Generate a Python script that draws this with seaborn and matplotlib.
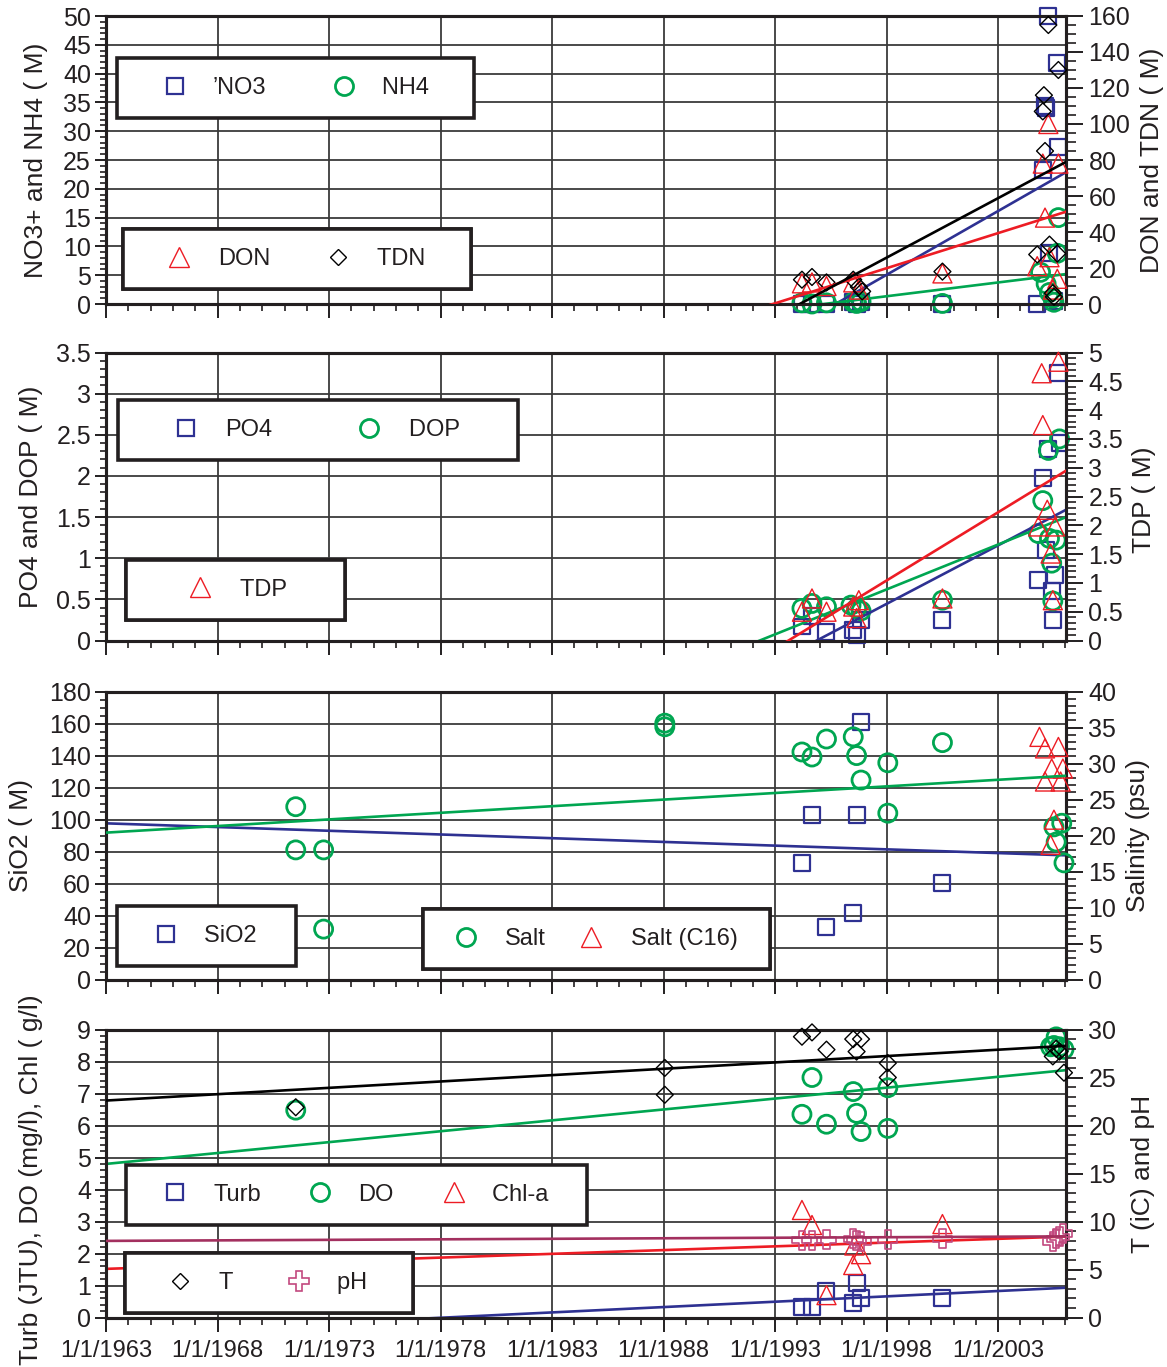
import numpy as np
import pandas as pd
import matplotlib
matplotlib.use("Agg")
import matplotlib.pyplot as plt
from matplotlib.lines import Line2D
from matplotlib.ticker import MultipleLocator, FixedLocator, FixedFormatter, FuncFormatter
import seaborn as sns

# ---------------- data (decimal years) ----------------
x_tick_years = [1963, 1968, 1973, 1978, 1983, 1988, 1993, 1998, 2003]
x_tick_labels = ["1/1/1963", "1/1/1968", "1/1/1973", "1/1/1978", "1/1/1983",
                 "1/1/1988", "1/1/1993", "1/1/1998", "1/1/2003"]
X_RANGE = [1963.0, 2006.05]

# Panel 1
no3_year = [1994.2, 1994.65, 1995.3, 1996.5, 1996.65, 1996.85, 2000.5, 2004.75, 2005.0,
            2005.1, 2005.15, 2005.25, 2005.3, 2005.5, 2005.65, 2005.7]
no3_val = [0.0, 0.0, 0.0, 0.3, 0.0, 0.4, 0.0, 0.0, 23.2, 34.4, 34.0, 50.0, 8.8, 0.6, 41.8, 27.2]
nh4_year = [1994.2, 1994.65, 1995.3, 1996.5, 1996.65, 1996.85, 2000.5, 2004.9, 2005.15,
            2005.3, 2005.45, 2005.5, 2005.65, 2005.7]
nh4_val = [0.2, 0.0, 0.2, 0.3, 0.1, 0.4, 0.1, 5.5, 3.5, 2.0, 1.0, 0.3, 8.8, 15.0]
don_year = [1994.2, 1994.65, 1995.3, 1996.5, 1996.75, 2000.5, 2004.75, 2005.0, 2005.1,
            2005.25, 2005.3, 2005.45, 2005.65, 2005.7]
don_val = [11.5, 12.0, 10.0, 12.0, 8.0, 17.0, 21.0, 78.0, 48.0, 100.0, 26.0, 8.0, 14.0, 78.0]
tdn_year = [1994.2, 1994.65, 1995.3, 1996.5, 1996.75, 1996.9, 2000.5, 2004.75, 2005.0,
            2005.05, 2005.1, 2005.25, 2005.3, 2005.45, 2005.5, 2005.65, 2005.7]
tdn_val = [13.5, 15.0, 12.0, 13.5, 9.5, 7.0, 18.0, 27.5, 107.0, 116.0, 85.0, 155.0, 33.0,
           6.0, 4.0, 28.0, 130.0]
# trend values at the two ends of the time axis
no3_trend = [-72.4, 22.9]
nh4_trend = [-15.4, 5.2]
don_trend = [-116.6, 51.3]
tdn_trend = [-205.6, 79.0]

# Panel 2
po4_year = [1994.2, 1994.65, 1995.3, 1996.5, 1996.65, 1996.85, 2000.5, 2004.8, 2005.0,
            2005.15, 2005.25, 2005.4, 2005.45, 2005.55, 2005.7, 2005.75]
po4_val = [0.17, 0.30, 0.10, 0.13, 0.07, 0.25, 0.25, 0.73, 1.97, 1.10, 2.33, 0.60, 0.25,
           0.80, 3.25, 2.40]
dop_year = [1994.2, 1994.65, 1995.3, 1996.4, 1996.65, 1996.85, 2000.5, 2004.8, 2005.0,
            2005.25, 2005.3, 2005.4, 2005.45, 2005.6, 2005.75]
dop_val = [0.39, 0.45, 0.41, 0.43, 0.39, 0.36, 0.49, 1.30, 1.70, 2.31, 1.24, 0.94, 0.48,
           1.22, 2.45]
tdp_year = [1994.2, 1994.65, 1995.3, 1996.5, 1996.65, 1996.75, 2000.5, 2004.8, 2004.95,
            2005.0, 2005.2, 2005.35, 2005.45, 2005.55, 2005.7]
tdp_val = [0.50, 0.73, 0.50, 0.59, 0.39, 0.70, 0.73, 1.98, 4.64, 3.74, 2.27, 1.51, 0.70,
           1.98, 4.84]
po4_trend = [-4.53, 1.59]
dop_trend = [-3.20, 1.50]
tdp_trend = [-7.25, 2.95]

# Panel 3
sio2_year = [1994.2, 1994.65, 1995.3, 1996.5, 1996.65, 1996.85, 2000.5]
sio2_val = [73, 103, 33, 41.5, 103, 161, 60.5]
salt_year = [1971.5, 1971.5, 1972.75, 1972.75, 1988.05, 1988.05, 1994.2, 1994.65, 1995.3,
             1996.5, 1996.65, 1996.85, 1998.05, 1998.05, 2000.5, 2005.5, 2005.6, 2005.85,
             2005.95]
salt_val = [24.0, 18.0, 18.0, 7.0, 35.6, 35.1, 31.6, 30.9, 33.4, 33.7, 31.1, 27.7, 30.1,
            23.1, 32.9, 21.2, 19.1, 21.7, 16.2]
c16_year = [2004.85, 2005.1, 2005.1, 2005.35, 2005.4, 2005.5, 2005.7, 2005.8, 2005.9]
c16_val = [33.7, 32.1, 27.5, 18.7, 29.3, 22.2, 32.3, 27.5, 29.3]
sio2_trend = [97.6, 77.6]
salt_trend = [20.4, 28.3]

# Panel 4
turb_year = [1994.2, 1994.65, 1995.3, 1996.5, 1996.65, 1996.85, 2000.5]
turb_val = [0.34, 0.32, 0.84, 0.44, 1.07, 0.62, 0.60]
do_year = [1971.5, 1994.2, 1994.65, 1995.3, 1996.5, 1996.65, 1996.85, 1998.05, 1998.05,
           2005.35, 2005.5, 2005.6, 2005.75, 2005.95]
do_val = [6.48, 6.35, 7.50, 6.04, 7.06, 6.38, 5.81, 7.18, 5.91, 8.46, 8.5, 8.77, 8.46, 8.38]
chla_year = [1994.2, 1994.65, 1995.3, 1996.5, 1996.55, 1996.85, 2000.5]
chla_val = [3.36, 2.89, 0.70, 1.64, 2.25, 1.98, 2.92]
t_year = [1971.5, 1988.05, 1988.05, 1994.2, 1994.65, 1995.3, 1996.5, 1996.65, 1996.85,
          1998.05, 1998.05, 2005.45, 2005.6, 2005.75, 2005.95]
t_val = [21.9, 26.0, 23.2, 29.25, 29.7, 27.9, 29.0, 27.7, 29.0, 26.5, 25.0, 27.2, 28.0,
         27.7, 25.5]
ph_year = [1994.2, 1994.65, 1995.3, 1996.5, 1996.65, 1996.85, 1998.05, 2000.5, 2005.45,
           2005.6, 2005.75, 2005.9]
ph_val = [8.07, 8.07, 8.1, 8.2, 8.07, 7.9, 8.1, 8.2, 7.9, 8.2, 8.4, 8.75]
turb_trend = [-0.51, 0.93]
do_trend = [4.8, 7.73]
chla_trend = [1.52, 2.53]
t_trend = [22.6, 28.3]
ph_trend = [7.98, 8.45]

# ---------------- styles ----------------
INK = "#231f20"
BLUE, GREEN, RED, BLACK, PINK, PLINE = "#2e3192", "#00a651", "#ed1c24", "#000000", "#c2497f", "#a3305f"
SQ = dict(marker="s", ms=11.5, lw=1.6, color=BLUE)
CI = dict(marker="o", ms=13.0, lw=2.0, color=GREEN)
TR = dict(marker="^", ms=13.7, lw=1.0, color=RED)
DI = dict(marker="D", ms=8.6, lw=1.0, color=BLACK)
PL = dict(marker="P", ms=13.7, lw=1.2, color=PINK)

sns.set_theme(style="ticks")
plt.rcParams["font.family"] = ["Liberation Sans", "DejaVu Sans"]
plt.rcParams["text.color"] = INK
plt.rcParams["axes.labelcolor"] = INK
plt.rcParams["xtick.color"] = INK
plt.rcParams["ytick.color"] = INK

FW, FH = 1167, 1367
fig = plt.figure(figsize=(FW / 100, FH / 100), dpi=100)
L, W, H = 106.2 / FW, 960 / FW, 288 / FH
bottoms_px = [304, 640.5, 979.5, 1317.5]


def pts(ax, x, y, st):
    sns.scatterplot(x=x, y=y, ax=ax, marker=st["marker"], s=st["ms"] ** 2, color=st["color"],
                    facecolor="none", edgecolor=st["color"], linewidth=st["lw"],
                    clip_on=False, zorder=3, legend=False)


def trend(ax, vals, color):
    sns.lineplot(x=X_RANGE, y=vals, ax=ax, color=color, linewidth=1.9, legend=False,
                 zorder=4, estimator=None)


fmt = FuncFormatter(lambda v, p: f"{v:g}")


def style(ax, ax2, ylim_l, maj_l, min_l, ylim_r, maj_r, min_r, show_x, lab_l, lab_r,
          lx, rx, ly=0.5, ry=0.5):
    ax.set_xlim(*X_RANGE)
    ax.set_ylim(*ylim_l)
    ax2.set_ylim(*ylim_r)
    ax.xaxis.set_major_locator(FixedLocator(x_tick_years))
    ax.xaxis.set_major_formatter(FixedFormatter(x_tick_labels))
    ax.xaxis.set_minor_locator(MultipleLocator(1))
    ax.yaxis.set_major_locator(MultipleLocator(maj_l))
    ax.yaxis.set_minor_locator(MultipleLocator(min_l))
    ax.yaxis.set_major_formatter(fmt)
    ax2.yaxis.set_major_locator(MultipleLocator(maj_r))
    ax2.yaxis.set_minor_locator(MultipleLocator(min_r))
    ax2.yaxis.set_major_formatter(fmt)
    ax.grid(True, which="major", axis="both", color="#3a3a3a", linewidth=1.3)
    ax.set_axisbelow(True)
    ax.tick_params(axis="x", which="major", direction="out", length=10, width=1.4,
                   bottom=True, top=False, labelbottom=show_x, labelsize=17, pad=6)
    ax.tick_params(axis="x", which="minor", direction="out", length=5, width=1.2,
                   bottom=True, top=False)
    ax.tick_params(axis="y", which="major", direction="out", length=8, width=1.4,
                   left=True, right=False, labelsize=18, pad=3)
    ax.tick_params(axis="y", which="minor", direction="out", length=4, width=1.2,
                   left=True, right=False)
    ax2.tick_params(axis="y", which="major", direction="out", length=12, width=1.4,
                    right=True, left=False, labelsize=18, pad=4)
    ax2.tick_params(axis="y", which="minor", direction="out", length=7, width=1.2,
                    right=True, left=False)
    for a in (ax, ax2):
        for sp in a.spines.values():
            sp.set_visible(True)
            sp.set_linewidth(2.2)
            sp.set_color(INK)
    ax.set_xlabel("")
    ax.set_ylabel(lab_l, fontsize=19)
    ax2.set_ylabel(lab_r, fontsize=19)
    ax.yaxis.set_label_coords(lx, ly)
    ax2.yaxis.set_label_coords(rx, ry)


def legend(ax, entries, x0, ytop, hl, htp, cs):
    handles = [Line2D([], [], ls="none", marker=st["marker"], ms=st["ms"], mfc="none",
                      mec=st["color"], mew=st["lw"]) for st, _ in entries]
    labels = [lab for _, lab in entries]
    leg = ax.legend(handles, labels, loc="upper left", bbox_to_anchor=(x0, ytop),
                    ncol=len(entries), frameon=True, fancybox=False, framealpha=1,
                    edgecolor=INK, borderpad=0.8, handlelength=hl - 0.3,
                    handletextpad=htp + 0.15, columnspacing=cs, fontsize=17,
                    borderaxespad=0)
    leg.get_frame().set_linewidth(2.6)
    leg.set_zorder(10)
    ax.add_artist(leg)
    return leg


axes = []
for b in bottoms_px:
    ax = fig.add_axes([L, 1 - b / FH, W, H])
    ax2 = ax.twinx()
    axes.append((ax, ax2))

# ---- Panel 1 ----
ax, ax2 = axes[0]
pts(ax, no3_year, no3_val, SQ)
pts(ax, nh4_year, nh4_val, CI)
pts(ax2, don_year, don_val, TR)
pts(ax2, tdn_year, tdn_val, DI)
trend(ax, no3_trend, BLUE)
trend(ax, nh4_trend, GREEN)
trend(ax2, don_trend, RED)
trend(ax2, tdn_trend, BLACK)
style(ax, ax2, (0, 50), 5, 1, (0, 160), 20, 5, False,
      "NO3+ and NH4 ( M)", "DON and TDN ( M)", -0.0606, 1.0765)
legend(ax2, [(SQ, "\u2019NO3"), (CI, "NH4    ")], 0.011, 0.854, 3.6, -0.2, 1.65)
legend(ax2, [(TR, "DON"), (DI, "TDN    ")], 0.0175, 0.26, 3.45, -0.07, 1.28)

# ---- Panel 2 ----
ax, ax2 = axes[1]
pts(ax, po4_year, po4_val, SQ)
pts(ax, dop_year, dop_val, CI)
pts(ax2, tdp_year, tdp_val, TR)
trend(ax, po4_trend, BLUE)
trend(ax, dop_trend, GREEN)
trend(ax2, tdp_trend, RED)
style(ax, ax2, (0, 3.5), 0.5, 0.1, (0, 5), 0.5, 0.1, False,
      "PO4 and DOP ( M)", "TDP ( M)", -0.0658, 1.0685, 0.5, 0.49)
legend(ax2, [(SQ, "PO4"), (CI, "DOP      ")], 0.0123, 0.835, 4.47, -0.58, 2.03)
legend(ax2, [(TR, "TDP      ")], 0.0206, 0.28, 4.97, -0.79, 1.0)

# ---- Panel 3 ----
ax, ax2 = axes[2]
pts(ax, sio2_year, sio2_val, SQ)
pts(ax2, salt_year, salt_val, CI)
pts(ax2, c16_year, c16_val, TR)
trend(ax, sio2_trend, BLUE)
trend(ax2, salt_trend, GREEN)
style(ax, ax2, (0, 180), 20, 5, (0, 40), 5, 1, False,
      "SiO2 ( M)", "Salinity (psu)", -0.0763, 1.062)
legend(ax2, [(SQ, "SiO2   ")], 0.0113, 0.255, 2.86, 0.18, 1.0)
legend(ax2, [(CI, "Salt"), (TR, "Salt (C16)  ")], 0.33, 0.245, 2.35, 0.48, 0.9)

# ---- Panel 4 ----
ax, ax2 = axes[3]
pts(ax, turb_year, turb_val, SQ)
pts(ax, do_year, do_val, CI)
pts(ax, chla_year, chla_val, TR)
pts(ax2, t_year, t_val, DI)
pts(ax2, ph_year, ph_val, PL)
trend(ax, turb_trend, BLUE)
trend(ax, do_trend, GREEN)
trend(ax, chla_trend, RED)
trend(ax2, t_trend, BLACK)
trend(ax2, ph_trend, PLINE)
style(ax, ax2, (0, 9), 1, 0.2, (0, 30), 5, 1, True,
      "Turb (JTU), DO (mg/l), Chl ( g/l)", "T (iC) and pH", -0.0658, 1.0675, 0.477, 0.5)
legend(ax2, [(SQ, "Turb"), (CI, "DO"), (TR, "Chl-a   ")], 0.0206, 0.53, 2.86, 0.18, 1.25)
legend(ax2, [(DI, "T"), (PL, "pH    ")], 0.0196, 0.224, 3.36, -0.07, 1.31)

fig.savefig("out.png", dpi=100)
